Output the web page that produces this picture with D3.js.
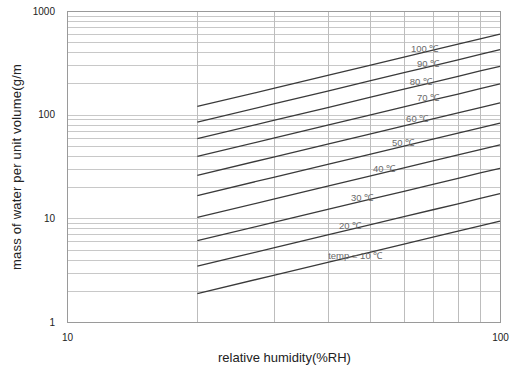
<!DOCTYPE html>
<html>
<head>
<meta charset="utf-8">
<script src="https://cdn.jsdelivr.net/npm/d3@7"></script>
<style>
  html, body { margin: 0; padding: 0; background: #fff; }
  svg { display: block; font-family: "Liberation Sans", Arial, sans-serif; }
</style>
</head>
<body>
<svg id="chart" width="512" height="371"></svg>
<script>
// Relative humidity sample points (%RH)
const rhPoints = [20, 30, 40, 50, 60, 70, 80, 90, 100];

// Air temperatures (°C) for each curve
const temps = [10, 20, 30, 40, 50, 60, 70, 80, 90, 100];

// Absolute humidity (g/m³) at each RH point, one row per temperature
const water10  = [1.88, 2.82, 3.76, 4.70, 5.64, 6.58, 7.52, 8.46, 9.4];
const water20  = [3.46, 5.19, 6.92, 8.65, 10.4, 12.1, 13.8, 15.6, 17.3];
const water30  = [6.08, 9.12, 12.2, 15.2, 18.2, 21.3, 24.3, 27.4, 30.4];
const water40  = [10.2, 15.3, 20.4, 25.6, 30.7, 35.8, 40.9, 46.0, 51.1];
const water50  = [16.6, 24.9, 33.2, 41.5, 49.8, 58.1, 66.4, 74.7, 83.0];
const water60  = [26.0, 39.0, 52.0, 65.0, 78.0, 91.0, 104, 117, 130];
const water70  = [39.6, 59.4, 79.2, 99.0, 119, 139, 158, 178, 198];
const water80  = [58.6, 87.9, 117, 147, 176, 205, 234, 264, 293];
const water90  = [84.6, 127, 169, 212, 254, 296, 338, 381, 423];
const water100 = [120, 179, 239, 299, 359, 419, 478, 538, 598];

// Curve labels and the RH where each label starts
const curveLabels = ["temp = 10 ℃", "20 ℃", "30 ℃", "40 ℃", "50 ℃", "60 ℃", "70 ℃", "80 ℃", "90 ℃", "100 ℃"];
const labelRH = [40.1, 42.5, 45.3, 50.9, 56.3, 60.7, 64.3, 61.9, 64.3, 62.3];

// Axis tick labels
const xTicks = [10, 100];
const yTicks = [1, 10, 100, 1000];
const xTitle = "relative humidity(%RH)";
const yTitle = "mass of water per unit volume(g/m";

const seriesValues = [water10, water20, water30, water40, water50,
                      water60, water70, water80, water90, water100];
const series = temps.map((t, i) => ({
  temp: t,
  label: curveLabels[i],
  labelRH: labelRH[i],
  points: rhPoints.map((rh, j) => ({ rh, v: seriesValues[i][j] }))
}));

const margin = { left: 67, right: 12, top: 11, bottom: 49 };
const W = 512, H = 371;
const svg = d3.select("#chart");

const x = d3.scaleLog().domain([10, 100]).range([margin.left, W - margin.right]);
const y = d3.scaleLog().domain([1, 1000]).range([H - margin.bottom, margin.top]);

const g = svg.append("g");

// Minor + major grid (log decades)
const xGrid = [];
for (let v = 20; v < 100; v += 10) xGrid.push(v);
const yGrid = [];
[1, 10, 100].forEach(d => { for (let k = 2; k <= 10; k++) yGrid.push(d * k); });

g.selectAll("line.hgrid").data(yGrid.filter(v => v < 1000)).join("line")
  .attr("class", "hgrid")
  .attr("x1", x(10)).attr("x2", x(100))
  .attr("y1", d => Math.round(y(d)) + 0.5).attr("y2", d => Math.round(y(d)) + 0.5)
  .attr("stroke", "#c8c8c8").attr("stroke-width", 1);

g.selectAll("line.vgrid").data(xGrid).join("line")
  .attr("class", "vgrid")
  .attr("y1", y(1)).attr("y2", y(1000))
  .attr("x1", d => Math.round(x(d)) + 0.5).attr("x2", d => Math.round(x(d)) + 0.5)
  .attr("stroke", "#bdbdbd").attr("stroke-width", 1);

// Plot frame
g.append("rect")
  .attr("x", x(10) + 0.5).attr("y", y(1000) + 0.5)
  .attr("width", x(100) - x(10)).attr("height", y(1) - y(1000))
  .attr("fill", "none").attr("stroke", "#9a9a9a").attr("stroke-width", 1);

// Axes (labels only at decades)
const xAxis = d3.axisBottom(x).tickValues(xTicks).tickFormat(d3.format("d")).tickSize(0).tickPadding(12);
const yAxis = d3.axisLeft(y).tickValues(yTicks).tickFormat(d3.format("d")).tickSize(0).tickPadding(12);

const gx = svg.append("g").attr("transform", `translate(0,${y(1)})`).call(xAxis);
gx.select(".domain").remove();
gx.selectAll("text").attr("font-size", 10).attr("fill", "#222")
  .attr("font-family", "Liberation Sans, Arial, sans-serif");

const gy = svg.append("g").attr("transform", `translate(${x(10)},0)`).call(yAxis);
gy.select(".domain").remove();
gy.selectAll("text").attr("font-size", 10).attr("fill", "#222")
  .attr("font-family", "Liberation Sans, Arial, sans-serif");

// Humidity curves
const line = d3.line().x(d => x(d.rh)).y(d => y(d.v));
g.selectAll("path.curve").data(series).join("path")
  .attr("class", "curve")
  .attr("d", d => line(d.points))
  .attr("fill", "none").attr("stroke", "#3a3a3a").attr("stroke-width", 1.3);

// Value on a curve at a given RH (log-log interpolation between samples)
function valueAt(s, rh) {
  const pts = s.points;
  let i = d3.bisector(p => p.rh).right(pts, rh) - 1;
  i = Math.max(0, Math.min(pts.length - 2, i));
  const a = pts[i], b = pts[i + 1];
  const t = (Math.log(rh) - Math.log(a.rh)) / (Math.log(b.rh) - Math.log(a.rh));
  return Math.exp(Math.log(a.v) + t * (Math.log(b.v) - Math.log(a.v)));
}

// Curve labels
g.selectAll("text.curve-label").data(series).join("text")
  .attr("class", "curve-label")
  .attr("x", d => x(d.labelRH))
  .attr("y", d => y(valueAt(d, d.labelRH)) - 3)
  .attr("font-size", 9.5)
  .attr("fill", "#6a6a6a")
  .text(d => d.label);

// Axis titles
svg.append("text")
  .attr("x", (x(10) + x(100)) / 2 + 1).attr("y", 362)
  .attr("text-anchor", "middle").attr("font-size", 13).attr("fill", "#222")
  .text(xTitle);

svg.append("text")
  .attr("transform", `translate(21,167) rotate(-90)`)
  .attr("text-anchor", "middle").attr("font-size", 13).attr("fill", "#222")
  .attr("letter-spacing", 0.2)
  .text(yTitle);
</script>
</body>
</html>
